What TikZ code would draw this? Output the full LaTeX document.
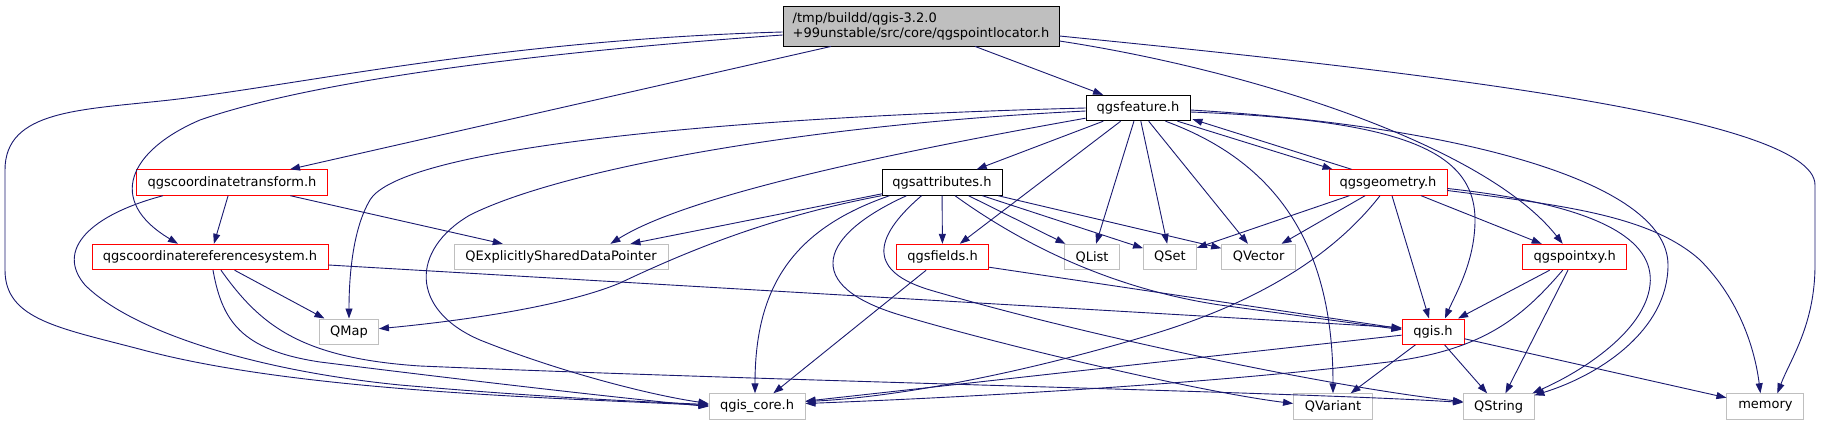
\documentclass[tikz,border=0pt]{standalone}
\usepackage{fontspec}
\setmainfont{DejaVu Sans}
\usetikzlibrary{arrows.meta, calc}
\definecolor{cedge}{HTML}{191970}
\definecolor{cred}{HTML}{FF0000}
\definecolor{cext}{HTML}{BFBFBF}
\definecolor{cmain}{HTML}{BFBFBF}
\tikzset{
  every picture/.style={line width=0.9pt},
  hbox/.style={draw=#1, fill=white, rectangle, inner sep=0pt, minimum height=25.5pt, font=\fontsize{13}{15}\selectfont, text=black},
  hbox/.default=black,
  redbox/.style={hbox=cred},
  extbox/.style={hbox=cext},
  mainbox/.style={hbox=black, fill=cmain, minimum width=276pt, minimum height=40pt, align=left},
  dep/.style={draw=cedge, -{Triangle[length=10pt, width=7pt]}},
}

\begin{document}
\begin{tikzpicture}[x=1pt, y=-1pt]
  \fill[white] (0,0) rectangle (1821,425);
  \useasboundingbox (0,0) rectangle (1821,425);
  % headers
  \node[mainbox] (loc) at (921,26) {/tmp/buildd/qgis-3.2.0\\+99unstable/src/core/qgspointlocator.h};
  \node[hbox, minimum width=104pt] (feat) at (1138,108) {qgsfeature.h};
  \node[hbox, minimum width=120pt] (attr) at (942,182.5) {qgsattributes.h};
  \node[redbox, minimum width=191pt] (ctr) at (232,182.5) {qgscoordinatetransform.h};
  \node[redbox, minimum width=118pt] (geom) at (1388,182.5) {qgsgeometry.h};
  \node[redbox, minimum width=236pt] (crs) at (210,257) {qgscoordinatereferencesystem.h};
  \node[extbox, minimum width=214pt] (esdp) at (561,257) {QExplicitlySharedDataPointer};
  \node[redbox, minimum width=92pt] (fields) at (942.5,257) {qgsfields.h};
  \node[extbox, minimum width=55pt] (qlist) at (1092,257) {QList};
  \node[extbox, minimum width=53pt] (qset) at (1170,257) {QSet};
  \node[extbox, minimum width=74pt] (qvector) at (1258.6,257) {QVector};
  \node[redbox, minimum width=104pt] (pxy) at (1574.7,257) {qgspointxy.h};
  \node[extbox, minimum width=59pt] (qmap) at (349,331.7) {QMap};
  \node[redbox, minimum width=62pt] (qgis) at (1433,331.7) {qgis.h};
  \node[extbox, minimum width=96pt] (core) at (757,406.5) {qgis\_core.h};
  \node[extbox, minimum width=79pt] (qvariant) at (1333,406.5) {QVariant};
  \node[extbox, minimum width=70.5pt] (qstring) at (1498.7,406.5) {QString};
  \node[extbox, minimum width=77pt] (memory) at (1765.4,406.5) {memory};
  % qgspointlocator.h
  \draw[dep] ($(loc.west)+(0,6)$) .. controls (500,40) and (300,85) .. (170,100) .. controls (80,110) and (5,110) .. (5,170) -- (5,270) .. controls (5,320) and (60,328) .. (143,350) .. controls (300,392) and (560,398) .. ($(core.west)+(0,-1)$);
  \draw[dep] ($(loc.west)+(0,9)$) .. controls (500,55) and (300,85) .. (200,120) .. controls (130,150) and (105,200) .. ($(crs.north)+(-32,0)$);
  \draw[dep] (loc) -- (ctr);
  \draw[dep] (loc) -- (feat);
  \draw[dep] ($(loc.east)+(0,15)$) .. controls (1250,70) and (1485,145) .. ($(pxy.north)+(-12,0)$);
  \draw[dep] ($(loc.east)+(0,10)$) .. controls (1400,70) and (1815,115) .. (1815,185) -- (1815,265) .. controls (1815,325) and (1790,360) .. ($(memory.north)+(12,0)$);
  % qgscoordinatetransform.h
  \draw[dep] (ctr) -- (crs);
  \draw[dep] (ctr) -- (esdp);
  \draw[dep] ($(ctr.south west)+(27,0)$) .. controls (90,215) and (55,250) .. (85,285) .. controls (130,330) and (250,370) .. (400,385) .. controls (550,398) and (650,402) .. ($(core.west)+(0,-2)$);
  % qgscoordinatereferencesystem.h
  \draw[dep] (crs) -- (qmap);
  \draw[dep] ($(crs.east)+(0,8)$) -- ($(qgis.west)+(0,-4)$);
  \draw[dep] ($(crs.south)+(3,0)$) .. controls (222,320) and (240,350) .. (320,362) .. controls (480,382) and (620,398) .. (core.west);
  \draw[dep] ($(crs.south)+(11,0)$) .. controls (260,325) and (300,358) .. (420,366) .. controls (800,382) and (1300,392) .. ($(qstring.west)+(0,-4)$);
  % qgsfeature.h
  \draw[dep] (feat) -- (attr);
  \draw[dep] ($(feat.south west)+(0,-3)$) .. controls (850,160) and (680,200) .. ($(esdp.north east)+(-58,0)$);
  \draw[dep] (feat.west) .. controls (700,118) and (400,150) .. (370,200) .. controls (352,230) and (349,280) .. (qmap.north);
  \draw[dep] ($(feat.west)+(0,3)$) .. controls (800,125) and (560,170) .. (470,215) .. controls (410,250) and (410,310) .. (480,340) .. controls (560,372) and (650,395) .. ($(core.west)+(0,-3)$);
  \draw[dep] (feat) -- (fields);
  \draw[dep] (feat) -- (qlist);
  \draw[dep] (feat) -- (qset);
  \draw[dep] (feat) -- (qvector);
  \draw[dep] ($(feat.south east)+(-25,0)$) .. controls (1285,165) and (1333,255) .. (qvariant.north);
  \draw[dep] ($(feat.south east)+(-13,0)$) -- ($(geom.north west)+(4,0)$);
  \draw[dep] ($(feat.east)+(0,4)$) .. controls (1400,120) and (1475,150) .. (1475,220) .. controls (1475,262) and (1455,295) .. ($(qgis.north)+(12,0)$);
  \draw[dep] ($(feat.east)+(0,2)$) .. controls (1450,125) and (1668,180) .. (1668,265) .. controls (1668,330) and (1600,375) .. ($(qstring.north east)+(0,2)$);
  % qgsattributes.h
  \draw[dep] ($(attr.south west)+(1,-2)$) -- ($(esdp.north east)+(-38,0)$);
  \draw[dep] (attr.south west) .. controls (780,215) and (700,245) .. (620,283) .. controls (560,308) and (450,322) .. ($(qmap.east)+(0,-3)$);
  \draw[dep] ($(attr.south west)+(8,0)$) .. controls (790,230) and (755,290) .. ($(core.north)+(-2,0)$);
  \draw[dep] ($(attr.south west)+(25,0)$) .. controls (820,235) and (800,285) .. (900,315) .. controls (1000,345) and (1200,392) .. ($(qvariant.west)+(0,-3)$);
  \draw[dep] ($(attr.south west)+(40,0)$) .. controls (870,240) and (870,272) .. (930,290) .. controls (1100,340) and (1350,390) .. ($(qstring.west)+(0,-5)$);
  \draw[dep] (attr) -- (fields);
  \draw[dep] ($(attr.south)+(13,0)$) .. controls (1030,250) and (1120,290) .. (1220,305) -- ($(qgis.west)+(0,-2)$);
  \draw[dep] (attr) -- (qlist);
  \draw[dep] (attr) -- (qset);
  \draw[dep] (attr) -- (qvector);
  % qgsgeometry.h
  \draw[dep] ($(geom.north west)+(23,0)$) -- ($(feat.south east)+(2,-2)$);
  \draw[dep] (geom) -- (qset);
  \draw[dep] (geom) -- (qvector);
  \draw[dep] ($(geom.south)+(-8,0)$) .. controls (1330,260) and (1250,305) .. (1150,335) .. controls (1000,380) and (880,398) .. ($(core.east)+(0,-5)$);
  \draw[dep] (geom) -- (qgis);
  \draw[dep] (geom) -- (pxy);
  \draw[dep] ($(geom.east)+(0,6)$) .. controls (1600,205) and (1655,240) .. (1650,285) .. controls (1645,330) and (1585,370) .. ($(qstring.north east)+(-2,0)$);
  \draw[dep] ($(geom.east)+(0,8)$) .. controls (1560,205) and (1650,215) .. (1700,260) .. controls (1740,300) and (1755,350) .. ($(memory.north)+(-5,0)$);
  % qgsfields.h
  \draw[dep] (fields) -- (core);
  \draw[dep] ($(fields.south east)+(0,-3)$) -- ($(qgis.west)+(0,-3)$);
  % qgspointxy.h
  \draw[dep] (pxy) -- (qgis);
  \draw[dep] (pxy) -- (qstring);
  \draw[dep] ($(pxy.south)+(-12,0)$) .. controls (1520,320) and (1480,352) .. (1380,363) .. controls (1200,385) and (950,398) .. ($(core.east)+(0,-3)$);
  % qgis.h
  \draw[dep] (qgis) -- (core);
  \draw[dep] (qgis) -- (qvariant);
  \draw[dep] (qgis) -- (qstring);
  \draw[dep] (qgis) -- (memory);
\end{tikzpicture}
\end{document}
